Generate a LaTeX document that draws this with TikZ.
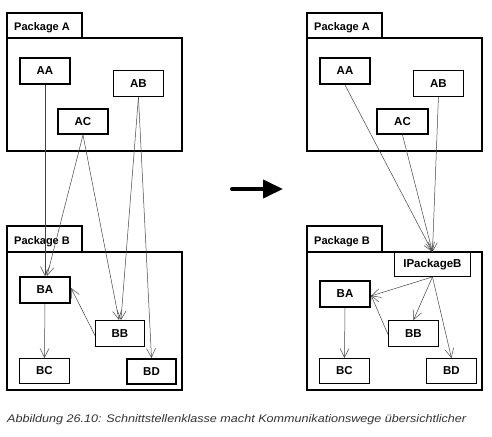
\documentclass[tikz,border=0pt]{standalone}
\usepackage{fontspec}
\setmainfont{Liberation Sans}
\usetikzlibrary{arrows.meta}
\definecolor{capgray}{HTML}{333333}
\definecolor{depgray}{HTML}{444444}
\begin{document}
\begin{tikzpicture}[x=1pt,y=-1pt,
  pkg/.style={draw, line width=1.3pt},
  pkglabel/.style={anchor=base west, inner sep=0pt, font=\fontsize{11}{13}\selectfont\bfseries},
  cls/.style={draw, line width=0.9pt, anchor=north west, inner sep=0pt,
    font=\fontsize{11.5}{13}\selectfont\bfseries},
  clsthick/.style={cls, line width=2pt},
  dep/.style={-{Straight Barb[length=9pt,width=9pt]}, draw=depgray, line width=0.5pt},
  bigarrow/.style={-{Triangle[length=20pt,width=18pt]}, line width=4pt, line cap=round}]
\useasboundingbox (0,0) rectangle (492,436);

% ---------- left: Package A ----------
\draw[pkg] (7,13) rectangle (82,38);
\draw[pkg] (7,38) rectangle (182,151);
\node[pkglabel] (lpa) at (14,31) {Package A};
\node[clsthick, minimum width=50pt, minimum height=26pt] (lAA) at (19,57) {AA};
\node[cls, minimum width=50pt, minimum height=26pt] (lAB) at (113,70) {AB};
\node[clsthick, minimum width=50pt, minimum height=25pt] (lAC) at (57,108) {AC};

% ---------- left: Package B ----------
\draw[pkg] (7,226) rectangle (82,252);
\draw[pkg] (7,252) rectangle (182,390);
\node[pkglabel] (lpb) at (14,244) {Package B};
\node[clsthick, minimum width=50pt, minimum height=26pt] (lBA) at (19,276) {BA};
\node[cls, minimum width=49pt, minimum height=26pt] (lBB) at (95,320) {BB};
\node[cls, minimum width=50pt, minimum height=25pt] (lBC) at (19,358) {BC};
\node[clsthick, minimum width=49pt, minimum height=25pt] (lBD) at (126,358) {BD};

\draw[dep] (lAA.south) -- (lBA.north);
\draw[dep] (lAC.south) -- ([xshift=2pt]lBA.north);
\draw[dep] (lAC.south) -- ([xshift=-1pt]lBB.north);
\draw[dep] (lAB.south) -- ([xshift=1pt]lBB.north);
\draw[dep] (lAB.south) -- (lBD.north);
\draw[dep] ([yshift=-2pt]lBB.west) -- ([yshift=2pt]lBA.east);
\draw[dep] (lBA.south) -- (lBC.north);

% ---------- big arrow ----------
\coordinate (bs) at (232,189);
\coordinate (be) at (283,189);
\draw[bigarrow] (bs) -- (be);

% ---------- right: Package A ----------
\draw[pkg] (307,13) rectangle (382,38);
\draw[pkg] (307,38) rectangle (482,151);
\node[pkglabel] (rpa) at (314,31) {Package A};
\node[clsthick, minimum width=50pt, minimum height=26pt] (rAA) at (319,57) {AA};
\node[cls, minimum width=50pt, minimum height=26pt] (rAB) at (413,70) {AB};
\node[clsthick, minimum width=51pt, minimum height=25pt] (rAC) at (376,108) {AC};

% ---------- right: Package B ----------
\draw[pkg] (307,226) rectangle (382,252);
\draw[pkg] (307,252) rectangle (482,390);
\node[pkglabel] (rpb) at (314,244) {Package B};
\node[cls, minimum width=76pt, minimum height=24pt] (rIP) at (394,252) {IPackageB};
\node[clsthick, minimum width=50pt, minimum height=26pt] (rBA) at (319,280) {BA};
\node[cls, minimum width=50pt, minimum height=26pt] (rBB) at (388,320) {BB};
\node[cls, minimum width=50pt, minimum height=25pt] (rBC) at (319,358) {BC};
\node[cls, minimum width=50pt, minimum height=25pt] (rBD) at (426,358) {BD};

\draw[dep] (rAA.south) -- (rIP.north);
\draw[dep] (rAC.south) -- (rIP.north);
\draw[dep] (rAB.south) -- (rIP.north);
\draw[dep] (rIP.south) -- ([yshift=-2pt]rBA.east);
\draw[dep] (rIP.south) -- (rBB.north);
\draw[dep] (rIP.south) -- (rBD.north);
\draw[dep] ([yshift=-1pt]rBB.west) -- ([yshift=-1pt]rBA.east);
\draw[dep] (rBA.south) -- (rBC.north);

% ---------- caption ----------
\node[anchor=base west, inner sep=0pt, text=capgray,
  font=\fontsize{11}{13}\selectfont\itshape] (cap) at (7,422)
  {\scalebox{1.145}[1]{Abbildung 26.10: Schnittstellenklasse macht Kommunikationswege übersichtlicher}};
\end{tikzpicture}
\end{document}
